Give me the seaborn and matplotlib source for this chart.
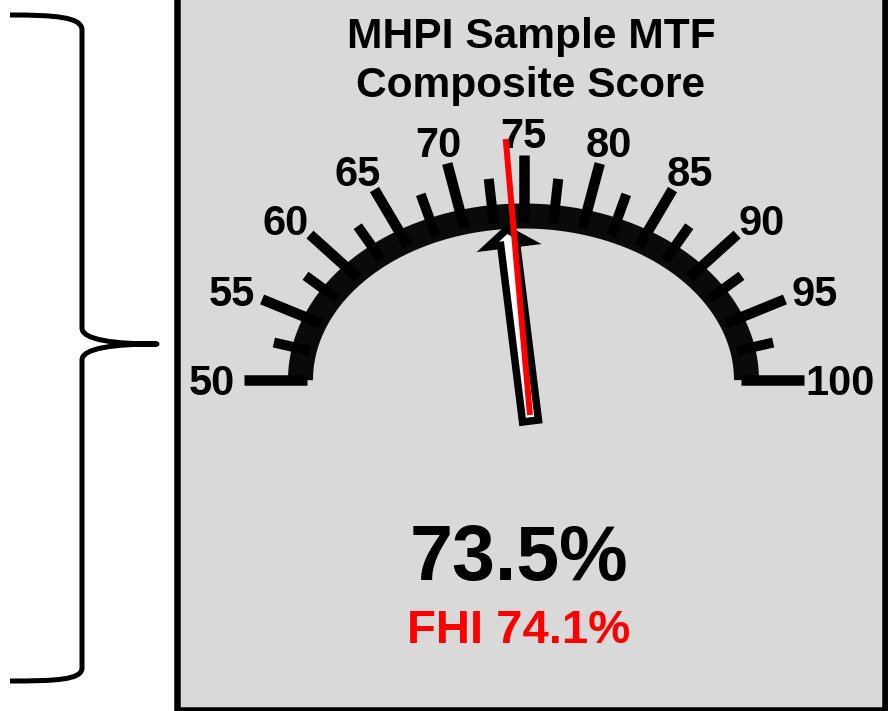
import numpy as np
import pandas as pd
import matplotlib
matplotlib.use("Agg")
import matplotlib.pyplot as plt
from matplotlib.patches import Rectangle, PathPatch, Polygon
from matplotlib.path import Path
import seaborn as sns

# ---- data -------------------------------------------------------------
title_lines = ["MHPI Sample MTF", "Composite Score"]
scale_min, scale_max = 50, 100
major_values = [50, 55, 60, 65, 70, 75, 80, 85, 90, 95, 100]
major_labels = ["50", "55", "60", "65", "70", "75", "80", "85", "90", "95", "100"]
minor_values = [52.5, 57.5, 62.5, 67.5, 72.5, 77.5, 82.5, 87.5, 92.5, 97.5]
score = 73.5
benchmark_name = "FHI"
benchmark = 74.1

# ---- style ------------------------------------------------------------
sns.set_theme(style="white")
plt.rcParams["font.family"] = ["Liberation Sans", "DejaVu Sans"]

W, H = 888, 711
DPI = 100
PX = 72.0 / DPI  # points per pixel

fig = plt.figure(figsize=(W / DPI, H / DPI), dpi=DPI)
fig.patch.set_facecolor("white")
ax = fig.add_axes([0, 0, 1, 1])
ax.set_xlim(0, W)
ax.set_ylim(H, 0)
ax.axis("off")

# panel
ax.add_patch(Rectangle((177, -20), 884.5 - 177, 709.5 + 20,
                       facecolor="#d9d9d9", edgecolor="black",
                       linewidth=6.5 * PX, zorder=0))

# curly brace on the left
verts = [(10, 15), (55, 15), (82, 17), (82, 30),
         (82, 328),
         (82, 340), (115, 344), (157, 344),
         (115, 344), (82, 348), (82, 360),
         (82, 668),
         (82, 680), (55, 681), (10, 681)]
codes = [Path.MOVETO, Path.CURVE4, Path.CURVE4, Path.CURVE4,
         Path.LINETO,
         Path.CURVE4, Path.CURVE4, Path.CURVE4,
         Path.CURVE4, Path.CURVE4, Path.CURVE4,
         Path.LINETO,
         Path.CURVE4, Path.CURVE4, Path.CURVE4]
ax.add_patch(PathPatch(Path(verts, codes), facecolor="none", edgecolor="black",
                       linewidth=5 * PX, joinstyle="round", capstyle="butt"))

# ---- gauge geometry ---------------------------------------------------
cx, cy = 523.5, 380.0
rx, ry = 223.0, 164.0

# ticks are spaced evenly along the arc
tt = np.linspace(np.pi, 0.0, 4001)
seg = np.hypot(np.diff(rx * np.cos(tt)), np.diff(ry * np.sin(tt)))
cum = np.concatenate([[0.0], np.cumsum(seg)])
frac = cum / cum[-1]


def angle_of(v):
    f = (np.asarray(v, dtype=float) - scale_min) / (scale_max - scale_min)
    return np.interp(f, frac, tt)


def on_ellipse(t, ax_r, ay_r):
    return cx + ax_r * np.cos(t), cy - ay_r * np.sin(t)


# band
band_t = angle_of(np.linspace(scale_min, scale_max, 400))
bx, by = on_ellipse(band_t, rx, ry)
sns.lineplot(x=bx, y=by, sort=False, estimator=None, color="#0a0a0a",
             linewidth=25 * PX, solid_capstyle="butt", ax=ax, zorder=2)


def tick_frame(values, dx, dy):
    rows = []
    for v in values:
        t = angle_of(v)
        x0, y0 = on_ellipse(t, rx - 6, ry - 6)
        x1, y1 = on_ellipse(t, rx + dx, ry + dy)
        rows.append({"value": v, "x": x0, "y": y0})
        rows.append({"value": v, "x": x1, "y": y1})
    return pd.DataFrame(rows)


major_df = tick_frame(major_values, 57, 61)
minor_df = tick_frame(minor_values, 31, 39)
sns.lineplot(data=major_df, x="x", y="y", units="value", estimator=None,
             sort=False, color="black", linewidth=10.5 * PX,
             solid_capstyle="butt", legend=False, ax=ax, zorder=3)
sns.lineplot(data=minor_df, x="x", y="y", units="value", estimator=None,
             sort=False, color="black", linewidth=10 * PX,
             solid_capstyle="butt", legend=False, ax=ax, zorder=3)

# scale labels: centred on an outer ellipse, wider labels nudged outwards
label_fs = 30
em_px = label_fs / PX
cap_px = 0.716 * em_px
for v, lab in zip(major_values, major_labels):
    t = angle_of(v)
    lx, ly = on_ellipse(t, 312, 247)
    lx += max(len(lab) - 2, 0) * 0.12 * em_px * np.cos(t)
    ax.text(lx, ly + cap_px / 2, lab, ha="center", va="baseline",
            fontsize=label_fs, fontweight="bold", color="black", zorder=4)

# ---- needle and benchmark line ---------------------------------------
pivot = np.array([530.5, 421.0])

tx, ty = on_ellipse(angle_of(score), rx, ry)
vec = np.array([tx, ty]) - pivot
dist = np.hypot(*vec)
d = vec / dist
n = np.array([-d[1], d[0]])
L_tip = dist - 13
L_head = L_tip - 15
ws, hw = 8.0, 21.0
local = [(0, -ws), (L_head, -ws), (L_head, -hw), (L_tip, 0),
         (L_head, hw), (L_head, ws), (0, ws)]
needle = [pivot + a * d + b * n for a, b in local]
ax.add_patch(Polygon(needle, closed=True, facecolor="white", edgecolor="black",
                     linewidth=7.5 * PX, joinstyle="miter", zorder=5))

bx2, by2 = on_ellipse(angle_of(benchmark), rx, ry)
vr = np.array([bx2, by2]) - pivot
dr = vr / np.hypot(*vr)
p0 = pivot + dr * 6
p1 = pivot + dr * 283
ax.plot([p0[0], p1[0]], [p0[1], p1[1]], color="#ff0000",
        linewidth=6 * PX, solid_capstyle="butt", zorder=6)

# ---- text -------------------------------------------------------------
ax.text(531, 48, title_lines[0], ha="center", va="baseline",
        fontsize=30.6, fontweight="bold", color="black")
ax.text(531, 97, title_lines[1], ha="center", va="baseline",
        fontsize=30.6, fontweight="bold", color="black")

ax.text(518.5, 580, f"{score}%", ha="center", va="baseline",
        fontsize=55.5, fontweight="bold", color="black")
ax.text(519, 643, f"{benchmark_name} {benchmark}%", ha="center",
        va="baseline", fontsize=34, fontweight="bold", color="#ff0000")

fig.savefig("out.png", dpi=DPI, facecolor="white")
